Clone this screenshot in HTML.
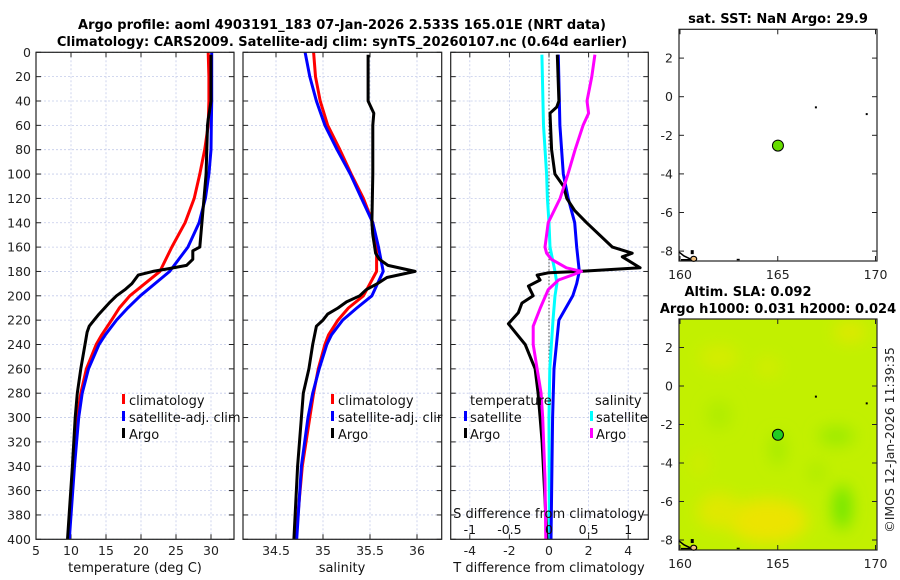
<!DOCTYPE html>
<html><head><meta charset="utf-8"><style>
html,body{margin:0;padding:0;background:#fff;}
svg{display:block;font-family:"DejaVu Sans","Liberation Sans",sans-serif;}
</style></head><body>
<svg id="fig" width="900" height="580" viewBox="0 0 900 580">
<defs>
<filter id="blur" x="-50%" y="-50%" width="200%" height="200%"><feGaussianBlur stdDeviation="8"/></filter>
<clipPath id="clipmap"><rect x="679" y="319" width="198" height="231"/></clipPath>
</defs>
<text x="342" y="29" text-anchor="middle" font-size="13" font-weight="bold">Argo profile: aoml 4903191_183 07-Jan-2026 2.533S 165.01E (NRT data)</text>
<text x="342" y="46" text-anchor="middle" font-size="13" font-weight="bold">Climatology: CARS2009. Satellite-adj clim: synTS_20260107.nc (0.64d earlier)</text>
<text x="778" y="23" text-anchor="middle" font-size="13" font-weight="bold">sat. SST: NaN Argo: 29.9</text>
<text x="748" y="296" text-anchor="middle" font-size="13" font-weight="bold">Altim. SLA: 0.092</text>
<text x="778" y="313" text-anchor="middle" font-size="13" font-weight="bold">Argo h1000: 0.031 h2000: 0.024</text>
<text transform="translate(894,440) rotate(-90)" text-anchor="middle" font-size="12.5" fill="#222">©IMOS 12-Jan-2026 11:39:35</text>
<g id="g"></g>
</svg>
<script>
// ---- data ----
const depthClim = [0,20,40,60,80,100,120,140,160,180,200,210,220,232,240,260,280,300,340,400];
const tempClim  = [29.6,29.7,29.7,29.6,29.1,28.4,27.6,26.3,24.4,22.7,18.4,16.9,15.8,14.4,13.6,12.2,11.4,10.9,10.3,9.66];
const tempSat   = [30.1,30.1,30.1,30.05,30.0,29.7,29.2,28.3,26.7,24.1,19.9,18.1,16.5,14.9,14.0,12.5,11.6,11.1,10.5,9.76];
const salClim   = [34.90,34.92,34.97,35.05,35.18,35.30,35.43,35.53,35.57,35.57,35.43,35.27,35.16,35.06,35.02,34.95,34.90,34.86,34.78,34.71];
const salSat    = [34.81,34.86,34.93,35.02,35.15,35.29,35.41,35.53,35.59,35.64,35.52,35.36,35.21,35.09,35.04,34.96,34.89,34.84,34.77,34.72];
const depthArgo = [2,40,48,55,60,100,140,160,163,170,175,178,180,183,190,195,200,205,210,215,220,225,230,240,260,280,300,340,400];
const tempArgo  = [30.0,30.0,29.8,29.6,29.5,29.3,28.7,28.4,27.4,27.4,26.5,23.7,21.7,19.6,18.7,17.7,16.5,15.6,14.8,14.0,13.3,12.6,12.3,12.0,11.4,10.9,10.6,10.2,9.5];
const depthSal  = [2,40,50,60,100,140,150,160,165,170,175,180,185,190,195,200,205,210,215,220,225,240,260,280,300,340,400];
const salArgo   = [35.48,35.48,35.54,35.53,35.53,35.52,35.53,35.55,35.56,35.6,35.69,35.98,35.68,35.58,35.46,35.39,35.25,35.16,35.05,35.0,34.93,34.89,34.85,34.79,34.77,34.73,34.69];
const depthDT   = [2,40,45,50,80,100,110,120,130,140,160,165,168,177,180,181,183,187,192,200,206,214,223,230,240,260,280,320,400];
const dtArgo    = [0.42,0.5,0.39,0.05,0.13,0.3,0.73,0.9,1.3,1.9,3.2,4.2,3.7,4.6,1.56,0.0,-0.6,-0.45,-1.04,-0.8,-1.37,-1.55,-2.05,-1.7,-1.2,-0.7,-0.55,-0.35,-0.1];
const depthDS   = [2,60,100,120,140,160,180,190,200,220,260,300,400];
const dtSat     = [0.47,0.55,0.72,0.97,1.3,1.4,1.53,1.4,1.2,0.5,0.25,0.18,0.1];
const dsSat     = [-0.09,-0.07,-0.03,-0.02,0.0,0.013,0.076,0.1,0.076,0.05,0.01,0.0,0.005];
const depthDSA  = [2,20,40,50,60,80,100,120,140,160,165,170,177,180,183,187,195,210,225,240,260,280,300,350,400];
const dsArgo    = [0.58,0.54,0.48,0.5,0.43,0.33,0.24,0.14,-0.01,-0.05,-0.03,0.03,0.22,0.41,0.29,0.12,-0.01,-0.11,-0.2,-0.2,-0.15,-0.1,-0.08,-0.05,-0.04];
const depthTicks = [0,20,40,60,80,100,120,140,160,180,200,220,240,260,280,300,320,340,360,380,400];
const tempTicks = [5,10,15,20,25,30];
const salTicks = [34.5,35,35.5,36];
const dtTicks = [-4,-2,0,2,4];
const dsTicks = [-1,-0.5,0,0.5,1];
const lonTicks = [160,165,170];
const latTicksTop = [2,0,-2,-4,-6,-8];
const argoLon = [165.01], argoLat = [-2.533];

// ---- scales ----
const NS="http://www.w3.org/2000/svg";
const G=document.getElementById('g');
function el(tag,attrs,parent){const e=document.createElementNS(NS,tag);for(const k in attrs)e.setAttribute(k,attrs[k]);(parent||G).appendChild(e);return e;}
const Y0=52.3,Y1=539.3;
const yD=d=>Y0+(d/400)*(Y1-Y0);
function lin(d0,d1,r0,r1){return v=>r0+(v-d0)/(d1-d0)*(r1-r0);}
const xT=lin(5,30,36,211);
const xS=lin(34.5,36,276,417);
const xDT=lin(0,4,549,628.2);
const xDS=lin(0,1,549,628.2);

function panel(name,L,R,xticks,xs,labelTicks){
  const g=el('g',{});
  
  
  for(const t of depthTicks){el('line',{x1:L,x2:R,y1:yD(t),y2:yD(t),stroke:'#c4cbea','stroke-width':0.8,'stroke-dasharray':'2,2'},g);
    el('line',{x1:L,x2:L+5,y1:yD(t),y2:yD(t),stroke:'#222'},g);el('line',{x1:R-5,x2:R,y1:yD(t),y2:yD(t),stroke:'#222'},g);
    if(labelTicks){const tx=el('text',{x:L-5,y:yD(t)+4.5,'text-anchor':'end','font-size':12.5,fill:'#222'},g);tx.textContent=t;}}
  for(const t of xticks){const x=xs(t);el('line',{x1:x,x2:x,y1:Y0,y2:Y1,stroke:'#c4cbea','stroke-width':0.8,'stroke-dasharray':'2,2'},g);
    el('line',{x1:x,x2:x,y1:Y1-5,y2:Y1,stroke:'#222'},g);el('line',{x1:x,x2:x,y1:Y0,y2:Y0+5,stroke:'#222'},g);
    const tx=el('text',{x:x,y:555,'text-anchor':'middle','font-size':12.5,fill:'#222'},g);tx.textContent=t;}
  return g;
}
function frame(L,R){el('rect',{x:L,y:Y0,width:R-L,height:Y1-Y0,fill:'none',stroke:'#222','stroke-width':1.2});}
function line(name,xs,xv,dv,color,w){
  const p=el('path',{d:xv.map((v,i)=>(i?'L':'M')+xs(v).toFixed(1)+','+yD(dv[i]).toFixed(1)).join(''),fill:'none',stroke:color,'stroke-width':w||3,'stroke-linejoin':'round'});
  
  
}
function txt(name,x,y,s,opts){const t=el('text',Object.assign({x:x,y:y,'font-size':13,fill:'#111'},opts||{}));t.textContent=s;
  
  
  return t;}
function mark(x,y,c){el('rect',{x:x,y:y-11,width:3,height:10,fill:c});}

// Panel 1
panel('temperature-panel',36,234,tempTicks,xT,true);
line('temp-climatology-line',xT,tempClim,depthClim,'#ff0000');
line('temp-satellite-line',xT,tempSat,depthClim,'#0000ff');
line('temp-argo-line',xT,tempArgo,depthArgo,'#000000');
frame(36,234);
txt('temperature-x-axis-title',135,572,'temperature (deg C)',{'text-anchor':'middle'});
mark(122,405,'#ff0000');txt('legend-climatology',129,405,'climatology');
mark(122,422,'#0000ff');txt('legend-satellite-adj',129,422,'satellite-adj. clim');
mark(122,439,'#000');txt('legend-argo',129,439,'Argo');

// Panel 2
panel('salinity-panel',243,441.7,salTicks,xS,false);
line('sal-climatology-line',xS,salClim,depthClim,'#ff0000');
line('sal-satellite-line',xS,salSat,depthClim,'#0000ff');
line('sal-argo-line',xS,salArgo,depthSal,'#000000');
frame(243,441.7);
txt('salinity-x-axis-title',342,572,'salinity',{'text-anchor':'middle'});
mark(331,405,'#ff0000');txt('legend2-climatology',338,405,'climatology');
mark(331,422,'#0000ff');txt('legend2-satellite-adj',338,422,'satellite-adj. clim');
mark(331,439,'#000');txt('legend2-argo',338,439,'Argo');
el('rect',{x:442.5,y:410,width:8,height:14,fill:'#fff'});

// Panel 3
panel('difference-panel',450.7,648.3,dtTicks,xDT,false);
el('line',{x1:549,x2:549,y1:Y0,y2:Y1,stroke:'#444','stroke-width':1,'stroke-dasharray':'1.5,2'});
line('ds-satellite-line',xDS,dsSat,depthDS,'#00ffff');
line('dt-satellite-line',xDT,dtSat,depthDS,'#0000ff');
line('dt-argo-line',xDT,dtArgo,depthDT,'#000000');
line('ds-argo-line',xDS,dsArgo,depthDSA,'#ff00ff');
frame(450.7,648.3);
txt('dt-x-axis-title',549,572,'T difference from climatology',{'text-anchor':'middle'});
txt('ds-axis-title',549,518,'S difference from climatology',{'text-anchor':'middle'});
for(const t of dsTicks){const tt=txt('ds-tick-label',xDS(t),534,String(t),{'text-anchor':'middle','font-size':12.5});}
txt('legend3-temperature-header',470,405,'temperature');
mark(464,422,'#0000ff');txt('legend3-t-satellite',470,422,'satellite');
mark(464,439,'#000');txt('legend3-t-argo',470,439,'Argo');
txt('legend3-salinity-header',595,405,'salinity');
mark(590,422,'#00ffff');txt('legend3-s-satellite',596,422,'satellite');
mark(590,439,'#ff00ff');txt('legend3-s-argo',596,439,'Argo');

// Maps
const xLon=lin(160,170,680,875.5);
function mapAxes(name,top,bot,lat0y,latStep,bg){
  const g=el('g',{});
  
  
  const yL=v=>lat0y-v*latStep;
  if(bg)bg(g,yL);
  el('rect',{x:679,y:top,width:198,height:bot-top,fill:'none',stroke:'#222','stroke-width':1.2},g);
  for(const t of lonTicks){const x=xLon(t);el('line',{x1:x,x2:x,y1:bot-5,y2:bot,stroke:'#222'},g);el('line',{x1:x,x2:x,y1:top,y2:top+5,stroke:'#222'},g);
    const tx=el('text',{x:x,y:bot+18,'text-anchor':'middle','font-size':12.5,fill:'#222'},g);tx.textContent=t;}
  for(const t of latTicksTop){const y=yL(t);el('line',{x1:679,x2:684,y1:y,y2:y,stroke:'#222'},g);el('line',{x1:872,x2:877,y1:y,y2:y,stroke:'#222'},g);
    const tx=el('text',{x:673,y:y+4.5,'text-anchor':'end','font-size':12.5,fill:'#222'},g);tx.textContent=t;}
  el('rect',{x:xLon(166.9),y:yL(-0.5),width:2,height:2,fill:'#000'},g);
  el('rect',{x:xLon(169.5),y:yL(-0.85),width:2,height:2,fill:'#000'},g);
  el('path',{d:`M679,${yL(-8.05)} L684,${yL(-8.25)} L690,${yL(-8.4)} M681,${yL(-8.45)} L692,${yL(-8.45)}`,stroke:'#000','stroke-width':1.5,fill:'none'},g);
  el('ellipse',{cx:xLon(160.7),cy:yL(-8.4),rx:3,ry:2.5,fill:'#f0c080',stroke:'#000','stroke-width':1.2},g);
  el('rect',{x:xLon(160.6)-1,y:yL(-7.95),width:3,height:4,fill:'#000'},g);
  el('rect',{x:xLon(162.9),y:yL(-8.4),width:3,height:1.5,fill:'#000'},g);
  for(let i=0;i<argoLon.length;i++){
    const c=el('circle',{cx:xLon(argoLon[i]),cy:yL(argoLat[i]),r:5.5,fill:bg?'#22cc22':'#66dd00',stroke:'#000','stroke-width':1},g);
    
    
  }
}
mapAxes('sst-map',29.3,261,96.7,19.3,null);
mapAxes('sla-map',319,550,386,19.25,(g,yL)=>{
  el('rect',{x:679,y:319,width:198,height:231,fill:'#c2f000'},g);
  const b=el('g',{'clip-path':'url(#clipmap)'},g);
  const bl=el('g',{filter:'url(#blur)'},b);
  const blobs=[[164.5,-7,40,22,'#ece400'],[162,-6.5,22,18,'#e0e800'],[168.3,-6.3,9,22,'#6ce600'],[168,-2.6,18,9,'#98ea00'],[165,-3.3,7,16,'#a0ea00'],[162,-1.5,12,14,'#aeec00'],[162,1.5,20,12,'#d6ec00'],[168.7,2.8,16,10,'#e0e800'],[164.5,1,12,10,'#d4ec00'],[167,-4.5,7,10,'#a8ea00'],[161,-4,8,14,'#d0ec00']];
  for(const [lo,la,rx,ry,c] of blobs)el('ellipse',{cx:xLon(lo),cy:yL(la),rx:rx,ry:ry,fill:c},bl);
});
</script>
</body></html>
